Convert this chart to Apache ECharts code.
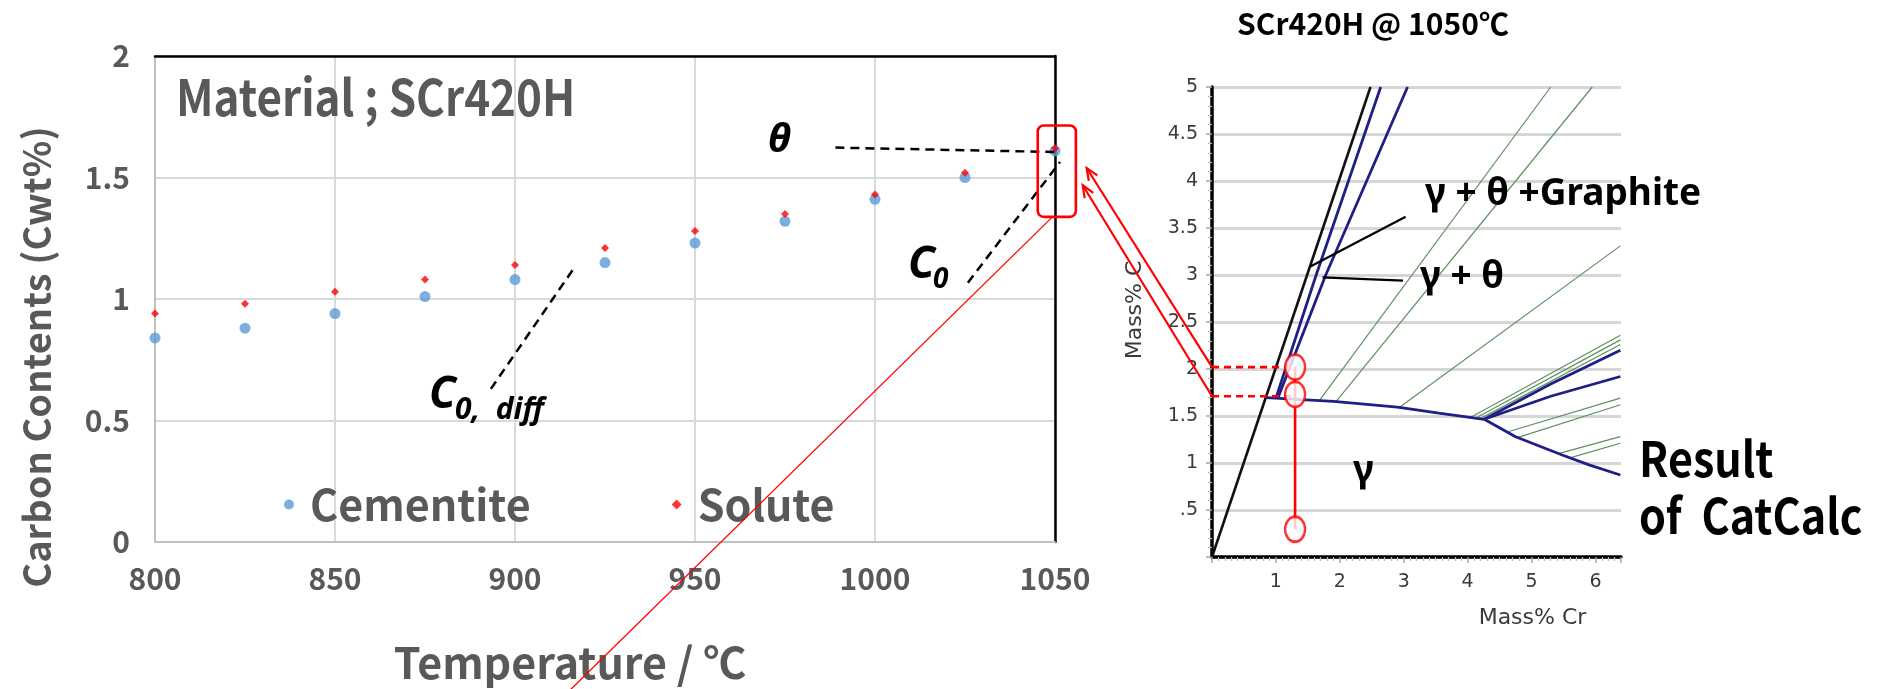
<!DOCTYPE html>
<html>
<head>
<meta charset="utf-8">
<title>SCr420H carbon contents</title>
<script src="https://cdn.jsdelivr.net/npm/echarts@6/dist/echarts.min.js"></script>
<style>
  html, body { margin: 0; padding: 0; background: #ffffff; }
  #chart { width: 1877px; height: 689px; }
</style>
</head>
<body>
<div id="chart"></div>
<script>
// ---- Carbon contents vs. temperature (SCr420H) ----
const temperatures = [800, 825, 850, 875, 900, 925, 950, 975, 1000, 1025, 1050];
const cementite    = [0.84, 0.88, 0.94, 1.01, 1.08, 1.15, 1.23, 1.32, 1.41, 1.50, 1.61];
const solute       = [0.94, 0.98, 1.03, 1.08, 1.14, 1.21, 1.28, 1.35, 1.43, 1.52, 1.62];

// annotation leader lines on the temperature chart, [temperature, wt%]
const thetaLeader  = [[989, 1.623], [1050, 1.605]];
const c0Leader     = [[1025.8, 1.067], [1051.4, 1.564]];
const c0DiffLeader = [[893.3, 0.63], [916.7, 1.134]];
const highlightBox = [[1045.2, 1.714], [1055.8, 1.338]];
const guideLine    = [[1049.3, 1.338], [912.5, -0.65]];
const arrowTips    = [[1058.8, 1.539], [1057.7, 1.468]];

// ---- CatCalc section, SCr420H @ 1050 C: [mass% Cr, mass% C] ----
const alloyLine      = [[0, 0], [2.48, 5]];
const thetaEdgeA     = [[1.0, 1.69], [1.63, 3], [2.64, 5]];
const thetaEdgeB     = [[1.03, 1.69], [1.78, 3], [3.06, 5]];
const gammaEdge      = [[0.85, 1.695], [1.4, 1.675], [1.9, 1.655], [2.9, 1.595], [3.55, 1.53], [4.26, 1.465]];
const lowerEdge      = [[4.26, 1.465], [4.75, 1.28], [5.48, 1.085], [5.9, 0.98], [6.39, 0.872]];
const branchUpper    = [[4.26, 1.465], [5.3, 1.84], [6.39, 2.2]];
const branchLower    = [[4.26, 1.465], [5.3, 1.71], [6.39, 1.92]];
const tieLines = [
  [[1.68, 1.664], [5.3, 5]],
  [[1.94, 1.654], [5.95, 5]],
  [[2.93, 1.59], [6.39, 3.31]],
  [[4.05, 1.486], [6.39, 2.36]],
  [[4.13, 1.479], [6.39, 2.31]],
  [[4.2, 1.472], [6.39, 2.26]],
  [[4.62, 1.33], [6.39, 1.69]],
  [[4.78, 1.27], [6.39, 1.62]],
  [[5.42, 1.1], [6.39, 1.28]],
  [[5.6, 1.055], [6.39, 1.21]]
];
const pointerGraphite = [[3.03, 3.62], [1.54, 3.09]];
const pointerTheta    = [[2.99, 2.94], [1.73, 2.975]];

// alloy composition markers (mass% Cr 1.3)
const markerPoints  = [[1.3, 2.02], [1.3, 1.73], [1.3, 0.295]];
const markerStem    = [[1.3, 0.295], [1.3, 2.02]];
const readoutUpper  = [[0, 2.02], [1.3, 2.02]];
const readoutLower  = [[0, 1.71], [1.3, 1.71]];

const FONT_KR = '"Noto Sans CJK KR", "Noto Sans", sans-serif';
const FONT_GR = '"Noto Sans", "DejaVu Sans", sans-serif';
const FONT_UI = '"DejaVu Sans", Verdana, sans-serif';
const GREY = '#595959';
const NAVY = '#1f1f86';
const TIE = '#5d905d';

const pairs = (xs, ys) => xs.map((x, i) => [x, ys[i]]);

const chart = echarts.init(document.getElementById('chart'));

function phaseLine(data, color, width, z, extra) {
  return Object.assign({
    type: 'line', xAxisIndex: 2, yAxisIndex: 2, data: data,
    symbol: 'none', silent: true, z: z,
    lineStyle: { color: color, width: width }
  }, extra || {});
}

const phaseSeries = [];
tieLines.forEach(t => phaseSeries.push(phaseLine(t, TIE, 1.2, 2)));
[thetaEdgeA, thetaEdgeB, gammaEdge, lowerEdge, branchUpper, branchLower].forEach(d =>
  phaseSeries.push(phaseLine(d, NAVY, 2.8, 3)));
phaseSeries.push(phaseLine(alloyLine, '#111111', 2.6, 4));
phaseSeries.push(phaseLine(pointerGraphite, '#000000', 2.2, 5));
phaseSeries.push(phaseLine(pointerTheta, '#000000', 2.2, 5));
phaseSeries.push(phaseLine(readoutUpper, '#ff0000', 2.6, 6, { lineStyle: { color: '#ff0000', width: 2.6, type: [7, 5] } }));
phaseSeries.push(phaseLine(readoutLower, '#ff0000', 2.6, 6, { lineStyle: { color: '#ff0000', width: 2.6, type: [7, 5] } }));
phaseSeries.push(phaseLine(markerStem, '#ff0000', 2.6, 6));
phaseSeries.push({
  type: 'scatter', xAxisIndex: 2, yAxisIndex: 2, data: markerPoints, silent: true, z: 7,
  symbol: 'circle', symbolSize: [20, 25],
  itemStyle: { color: '#ffffff', borderColor: '#ff0000', borderWidth: 2.6 }
});

const option = {
  animation: false,
  backgroundColor: '#ffffff',
  title: {
    text: 'SCr420H @ 1050℃', left: 1232, top: 4,
    textStyle: { fontFamily: FONT_KR, fontWeight: 'bold', fontSize: 30, color: '#000000' }
  },
  legend: {
    left: 279, top: 478, itemWidth: 10, itemHeight: 10, itemGap: 141,
    data: [{ name: 'Cementite', icon: 'circle' }, { name: 'Solute', icon: 'diamond' }],
    textStyle: { fontFamily: FONT_KR, fontWeight: 'bold', fontSize: 43, color: GREY, padding: [0, 0, 0, 11] }
  },
  grid: [
    { left: 155, top: 56, width: 900, height: 486 },
    { left: 1212, top: 87, width: 409, height: 470 }
  ],
  xAxis: [
    {
      gridIndex: 0, type: 'value', min: 800, max: 1050, interval: 50, position: 'bottom',
      axisLine: { show: true, onZero: false, lineStyle: { color: '#bfbfbf', width: 2 } },
      axisTick: { show: false },
      axisLabel: { margin: 22, fontFamily: FONT_KR, fontWeight: 'bold', fontSize: 30, color: GREY, formatter: v => String(v) },
      splitLine: { show: true, lineStyle: { color: '#d9d9d9', width: 2 } },
      name: 'Temperature / ℃', nameLocation: 'middle', nameGap: 99,
      nameTextStyle: { fontFamily: FONT_KR, fontWeight: 'bold', fontSize: 43, color: GREY, padding: [0, 70, 0, 0] }
    },
    {
      gridIndex: 0, type: 'value', min: 800, max: 1050, position: 'top',
      axisLine: { show: true, onZero: false, lineStyle: { color: '#000000', width: 2.5 } },
      axisTick: { show: false }, axisLabel: { show: false }, splitLine: { show: false }
    },
    {
      gridIndex: 1, type: 'value', min: 0, max: 6.4, interval: 1,
      axisLine: { show: true, onZero: false, lineStyle: { color: '#000000', width: 3.5 } },
      axisTick: { show: true, length: 6, lineStyle: { color: '#a8a8a8', width: 1.5 } },
      minorTick: { show: true, splitNumber: 10, length: 4, lineStyle: { color: '#bdbdbd', width: 1.2 } },
      axisLabel: {
        margin: 16, fontFamily: FONT_UI, fontSize: 19, color: '#3a3a3a', showMaxLabel: false,
        formatter: v => (Number.isInteger(v) && v > 0 ? String(v) : '')
      },
      splitLine: { show: false },
      name: 'Mass% Cr', nameLocation: 'middle', nameGap: 50,
      nameTextStyle: { fontFamily: FONT_UI, fontSize: 22, color: '#3a3a3a', padding: [0, 0, 0, 232] }
    }
  ],
  yAxis: [
    {
      gridIndex: 0, type: 'value', min: 0, max: 2, interval: 0.5,
      axisLine: { show: true, onZero: false, lineStyle: { color: '#bfbfbf', width: 2 } },
      axisTick: { show: false },
      axisLabel: { margin: 25, fontFamily: FONT_KR, fontWeight: 'bold', fontSize: 30, color: GREY },
      splitLine: { show: true, lineStyle: { color: '#d9d9d9', width: 2 } }
    },
    {
      gridIndex: 0, type: 'value', min: 0, max: 2, position: 'right',
      axisLine: { show: true, onZero: false, lineStyle: { color: '#000000', width: 2.5 } },
      axisTick: { show: false }, axisLabel: { show: false }, splitLine: { show: false }
    },
    {
      gridIndex: 1, type: 'value', min: 0, max: 5, interval: 0.5,
      axisLine: { show: true, onZero: false, lineStyle: { color: '#000000', width: 3.5 } },
      axisTick: { show: true, length: 6, lineStyle: { color: '#a8a8a8', width: 1.5 } },
      minorTick: { show: true, splitNumber: 5, length: 4, lineStyle: { color: '#bdbdbd', width: 1.2 } },
      axisLabel: {
        margin: 14, fontFamily: FONT_UI, fontSize: 19, color: '#3a3a3a',
        formatter: v => (v === 0 ? '' : (v < 1 ? '.5' : String(v)))
      },
      splitLine: { show: true, lineStyle: { color: '#d6d6d6', width: 3 } },
      name: 'Mass% C', nameLocation: 'middle', nameGap: 66,
      nameTextStyle: { fontFamily: FONT_UI, fontSize: 22, color: '#3a3a3a', padding: [0, 0, 0, 24] }
    }
  ],
  series: [
    {
      name: 'Cementite', type: 'scatter', xAxisIndex: 0, yAxisIndex: 0,
      data: pairs(temperatures, cementite), symbol: 'circle', symbolSize: 11, z: 3,
      itemStyle: { color: '#5b9bd5' }
    },
    {
      name: 'Solute', type: 'scatter', xAxisIndex: 0, yAxisIndex: 0,
      data: pairs(temperatures, solute), symbol: 'diamond', symbolSize: 8, z: 4,
      itemStyle: { color: '#ff0000' }
    }
  ].concat(phaseSeries)
};

chart.setOption(option);

// ---- overlay annotations positioned through the axes ----
const FINDERS = {
  temp: { xAxisIndex: 0, yAxisIndex: 0 },
  phase: { xAxisIndex: 2, yAxisIndex: 2 }
};
const toPx = (which, pt) => chart.convertToPixel(FINDERS[which], pt);

function segment(a, b, stroke, width, dash) {
  return {
    type: 'line', silent: true, z: 60,
    shape: { x1: a[0], y1: a[1], x2: b[0], y2: b[1] },
    style: { stroke: stroke, lineWidth: width, lineDash: dash || null }
  };
}

function arrow(from, to) {
  const ang = Math.atan2(to[1] - from[1], to[0] - from[0]);
  const len = 13, spread = 0.4;
  const h1 = [to[0] - len * Math.cos(ang - spread), to[1] - len * Math.sin(ang - spread)];
  const h2 = [to[0] - len * Math.cos(ang + spread), to[1] - len * Math.sin(ang + spread)];
  return [
    segment(from, to, '#ff0000', 2.2),
    { type: 'polyline', silent: true, z: 60, shape: { points: [h1, to, h2] },
      style: { stroke: '#ff0000', lineWidth: 2.2, fill: 'none' } }
  ];
}

function label(text, x, y, font, size, opts, sx, rot) {
  return {
    type: 'text', silent: true, z: 70, x: x, y: y, scaleX: sx || 1, rotation: rot || 0,
    style: Object.assign({
      text: text, fontFamily: font, fontSize: size, fontWeight: 'bold',
      fill: '#000000', align: 'left', verticalAlign: 'middle'
    }, opts || {})
  };
}

const boxA = toPx('temp', highlightBox[0]);
const boxB = toPx('temp', highlightBox[1]);

const graphics = [
  // y-axis title of the temperature chart
  label('Carbon Contents (Cwt%)', 37, 357, FONT_KR, 38, { fill: GREY, align: 'center' }, 1, Math.PI / 2),
  // dashed leaders
  segment(toPx('temp', thetaLeader[0]), toPx('temp', thetaLeader[1]), '#000000', 2.5, [9, 6]),
  segment(toPx('temp', c0Leader[0]), toPx('temp', c0Leader[1]), '#000000', 2.5, [9, 6]),
  segment(toPx('temp', c0DiffLeader[0]), toPx('temp', c0DiffLeader[1]), '#000000', 2.5, [9, 6]),
  // highlight around the 1050 C point
  {
    type: 'rect', silent: true, z: 60,
    shape: { x: boxA[0], y: boxA[1], width: boxB[0] - boxA[0], height: boxB[1] - boxA[1], r: 6 },
    style: { stroke: '#ff0000', lineWidth: 2.6, fill: 'none' }
  },
  segment(toPx('temp', guideLine[0]), toPx('temp', guideLine[1]), '#ff0000', 1.3),
  // text
  label('Material ; SCr420H', 176, 97, FONT_KR, 50, { fill: GREY }, 0.88),
  label('θ', 768, 141, FONT_GR, 40, { fontStyle: 'italic' }),
  label('C', 908, 265, FONT_GR, 44, { fontStyle: 'italic' }),
  label('0', 933, 280, FONT_GR, 28, { fontStyle: 'italic' }),
  label('C', 429, 395, FONT_GR, 44, { fontStyle: 'italic' }),
  label('0,  diff', 455, 410, FONT_GR, 30, { fontStyle: 'italic' }),
  label('γ + θ +Graphite', 1425, 194, FONT_GR, 37),
  label('γ + θ', 1420, 277, FONT_GR, 37),
  label('γ', 1353, 471, FONT_GR, 37),
  label('Result\nof  CatCalc', 1639, 487, FONT_KR, 49, { lineHeight: 57 }, 0.88)
].concat(
  arrow(toPx('phase', readoutUpper[0]), toPx('temp', arrowTips[0])),
  arrow(toPx('phase', readoutLower[0]), toPx('temp', arrowTips[1]))
);

chart.setOption({ graphic: graphics });
</script>
</body>
</html>
